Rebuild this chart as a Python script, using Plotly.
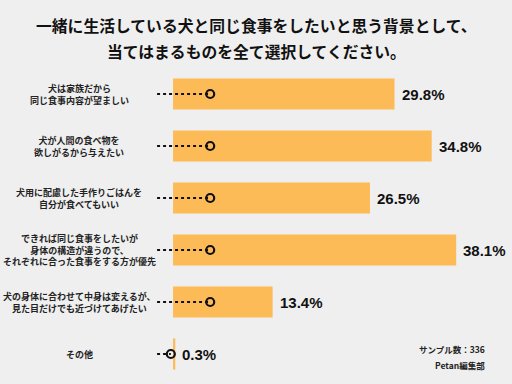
import plotly.graph_objects as go

categories = [
    "犬は家族だから<br>同じ食事内容が望ましい",
    "犬が人間の食べ物を<br>欲しがるから与えたい",
    "犬用に配慮した手作りごはんを<br>自分が食べてもいい",
    "できれば同じ食事をしたいが<br>身体の構造が違うので、<br>それぞれに合った食事をする方が優先",
    "犬の身体に合わせて中身は変えるが、<br>見た目だけでも近づけてあげたい",
    "その他",
]
values = [29.8, 34.8, 26.5, 38.1, 13.4, 0.3]
value_labels = ["29.8%", "34.8%", "26.5%", "38.1%", "13.4%", "0.3%"]
# decorative connector (dotted line + open circle), in % units
connector_start = [-2.15] * 6
connector_end = [5.0, 5.0, 5.0, 5.0, 5.0, -0.3]

title_line1 = "一緒に生活している犬と同じ食事をしたいと思う背景として、"
title_line2 = "当てはまるものを全て選択してください。"
note_lines = ["サンプル数：336", "Petan編集部"]

BG = "#efefef"
BAR = "#fdbb58"
FONT = "Noto Sans CJK JP"

W, H = 512, 384
ML, MR, MT, MB = 150, 6, 68, 4
PW, PH = W - ML - MR, H - MT - MB


def px_x(x):
    return (x - ML) / PW


def px_y(y):
    return 1 - (y - MT) / PH


ypos = list(range(len(categories)))

fig = go.Figure()
fig.add_trace(go.Bar(
    x=values, y=ypos, orientation="h",
    marker=dict(color=BAR, line=dict(width=0)),
    width=0.6, hoverinfo="skip",
))
for i in ypos:
    fig.add_trace(go.Scatter(
        x=[connector_start[i], connector_end[i]], y=[i, i],
        mode="lines", line=dict(color="#111111", width=2, dash="dot"),
        hoverinfo="skip", cliponaxis=False,
    ))
fig.add_trace(go.Scatter(
    x=connector_end, y=ypos, mode="markers",
    marker=dict(symbol="circle-open", size=8, color="#111111", line=dict(width=2.2)),
    hoverinfo="skip", cliponaxis=False,
))

ann = []
for i, (c, v, t) in enumerate(zip(categories, values, value_labels)):
    ann.append(dict(x=v, y=i, xref="x", yref="y", text="<b>%s</b>" % t,
                    xanchor="left", yanchor="middle", xshift=5, showarrow=False,
                    font=dict(family="Liberation Sans", size=15, color="#111111")))
    ann.append(dict(x=px_x(79), y=i, xref="paper", yref="y", text="<b>%s</b>" % c,
                    xanchor="center", yanchor="middle", align="center", showarrow=False,
                    font=dict(family=FONT, size=9, color="#222222")))

ann.append(dict(x=px_x(256), y=px_y(25), xref="paper", yref="paper", text="<b>%s</b>" % title_line1,
                showarrow=False, xanchor="center", yanchor="middle",
                font=dict(family=FONT, size=15.8, color="#111111")))
ann.append(dict(x=px_x(256), y=px_y(52), xref="paper", yref="paper", text="<b>%s</b>" % title_line2,
                showarrow=False, xanchor="center", yanchor="middle",
                font=dict(family=FONT, size=15.8, color="#111111")))
ann.append(dict(x=px_x(487), y=px_y(349), xref="paper", yref="paper", text="<b>%s</b>" % note_lines[0],
                showarrow=False, xanchor="right", yanchor="middle",
                font=dict(family=FONT, size=8.5, color="#222222")))
ann.append(dict(x=px_x(487), y=px_y(365), xref="paper", yref="paper", text="<b>%s</b>" % note_lines[1],
                showarrow=False, xanchor="right", yanchor="middle",
                font=dict(family=FONT, size=8.5, color="#222222")))

fig.update_layout(
    width=W, height=H,
    margin=dict(l=ML, r=MR, t=MT, b=MB, autoexpand=False),
    paper_bgcolor=BG, plot_bgcolor=BG,
    showlegend=False,
    xaxis=dict(range=[-3.1, 44.8], visible=False, fixedrange=True),
    yaxis=dict(range=[5.5, -0.5], visible=False, fixedrange=True),
    font=dict(family=FONT),
    annotations=ann,
)
fig.write_html(
    "out.html",
    config={"displayModeBar": False},
    post_script="document.body.style.margin='0';document.body.style.overflow='hidden';document.body.style.background='%s';" % BG,
)
